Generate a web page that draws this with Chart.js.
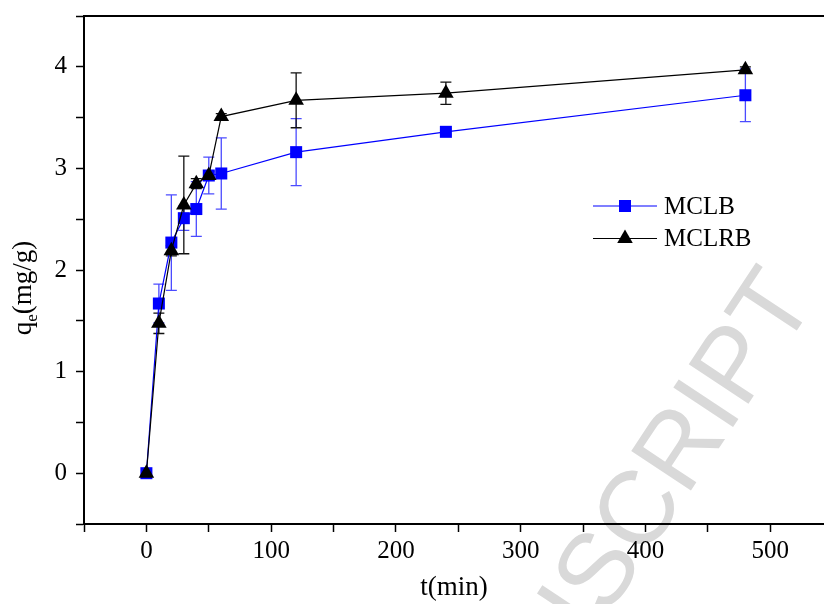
<!DOCTYPE html>
<html>
<head>
<meta charset="utf-8">
<script src="https://cdn.jsdelivr.net/npm/chart.js@4.4.1/dist/chart.umd.min.js"></script>
<style>
  html, body { margin: 0; padding: 0; background: #fff; }
  canvas { display: block; }
</style>
</head>
<body>
<canvas id="kineticsChart" width="824" height="604"></canvas>
<script>
// contact time (min)
var times = [0, 10, 20, 30, 40, 50, 60, 120, 240, 480];
// qe (mg/g) and error (+/-) for each sample
var mclb = [0, 1.67, 2.27, 2.51, 2.60, 2.93, 2.95, 3.16, 3.36, 3.72];
var mclbErr = [0, 0.19, 0.47, 0.12, 0.27, 0.18, 0.35, 0.33, 0.03, 0.26];
var mclrb = [0, 1.475, 2.19, 2.64, 2.85, 2.93, 3.51, 3.67, 3.74, 3.97];
var mclrbErr = [0, 0.10, 0.05, 0.48, 0.05, 0.04, 0.03, 0.27, 0.11, 0.03];
var seriesNames = ["MCLB", "MCLRB"];
var xTickLabels = [0, 100, 200, 300, 400, 500];
var yTickLabels = [0, 1, 2, 3, 4];

var serif = "'Liberation Serif', 'Times New Roman', serif";

function toPoints(ys) {
	return times.map(function (t, i) { return { x: t, y: ys[i] }; });
}

// no overhang padding, so the plot box sits where the figure has it
function noOverhang(s) {
	s.paddingTop = 0; s.paddingBottom = 0;
	s.paddingLeft = 0; s.paddingRight = 0;
}

var whiteBg = {
	id: 'whiteBg',
	beforeDraw: function (chart) {
		var ctx = chart.ctx;
		ctx.save();
		ctx.fillStyle = '#fff';
		ctx.fillRect(0, 0, chart.width, chart.height);
		// faint "accepted manuscript" stamp behind the plot
		ctx.translate(817, 300);
		ctx.rotate(-56.5 * Math.PI / 180);
		ctx.font = "104px 'Liberation Sans', Arial, sans-serif";
		ctx.fillStyle = '#d9d9d9';
		ctx.textAlign = 'right';
		ctx.textBaseline = 'alphabetic';
		ctx.fillText('ACCEPTED MANUSCRIPT', 0, 0);
		ctx.restore();
	}
};

var errorBars = {
	id: 'errorBars',
	beforeDatasetsDraw: function (chart) {
		var ctx = chart.ctx;
		var xs = chart.scales.x, ys = chart.scales.y;
		chart.data.datasets.forEach(function (ds) {
			ctx.save();
			ctx.strokeStyle = ds.errorColor;
			ctx.lineWidth = 1.3;
			ds.data.forEach(function (pt, i) {
				var err = ds.errors[i];
				if (!err) return;
				var px = xs.getPixelForValue(pt.x);
				var top = ys.getPixelForValue(pt.y + err);
				var bot = ys.getPixelForValue(pt.y - err);
				ctx.beginPath();
				ctx.moveTo(px, top); ctx.lineTo(px, bot);
				ctx.moveTo(px - 5.5, top); ctx.lineTo(px + 5.5, top);
				ctx.moveTo(px - 5.5, bot); ctx.lineTo(px + 5.5, bot);
				ctx.stroke();
			});
			ctx.restore();
		});
	}
};

var frameAndLabels = {
	id: 'frameAndLabels',
	afterDraw: function (chart) {
		var ctx = chart.ctx, a = chart.chartArea;
		ctx.save();
		// top frame line
		ctx.strokeStyle = '#000';
		ctx.lineWidth = 2;
		ctx.beginPath();
		ctx.moveTo(a.left - 1, a.top);
		ctx.lineTo(a.right, a.top);
		ctx.stroke();

		// y title with subscript
		ctx.fillStyle = '#000';
		ctx.translate(31, 288);
		ctx.rotate(-Math.PI / 2);
		ctx.textBaseline = 'alphabetic';
		ctx.textAlign = 'left';
		var big = "27px " + serif, small = "17px " + serif;
		ctx.font = big;
		var wq = ctx.measureText('q').width;
		var wr = ctx.measureText('(mg/g)').width;
		ctx.font = small;
		var we = ctx.measureText('e').width;
		var x0 = -(wq + we + wr) / 2;
		ctx.font = big;
		ctx.fillText('q', x0, 0);
		ctx.font = small;
		ctx.fillText('e', x0 + wq, 6);
		ctx.font = big;
		ctx.fillText('(mg/g)', x0 + wq + we, 0);
		ctx.restore();

		// legend on a white box
		ctx.save();
		ctx.fillStyle = '#fff';
		ctx.fillRect(588, 188, 220, 69);
		chart.data.datasets.forEach(function (ds, i) {
			var cy = 206 + i * 32.5;
			ctx.strokeStyle = ds.borderColor;
			ctx.lineWidth = 1.2;
			ctx.beginPath();
			ctx.moveTo(593, cy);
			ctx.lineTo(657, cy);
			ctx.stroke();
			ctx.fillStyle = ds.pointBackgroundColor;
			ctx.strokeStyle = ds.pointBorderColor;
			Chart.helpers.drawPoint(ctx, {
				pointStyle: ds.pointStyle, rotation: 0,
				radius: ds.pointRadius, borderWidth: 0
			}, 625, cy);
			ctx.fillStyle = '#000';
			ctx.font = "25px " + serif;
			ctx.textAlign = 'left';
			ctx.textBaseline = 'middle';
			ctx.fillText(ds.label, 664, cy + 1);
		});
		ctx.restore();
	}
};

var ctx = document.getElementById('kineticsChart').getContext('2d');

var chart = new Chart(ctx, {
	type: 'line',
	plugins: [whiteBg, errorBars, frameAndLabels],
	data: {
		datasets: [{
			label: seriesNames[0],
			data: toPoints(mclb),
			errors: mclbErr,
			errorColor: 'rgba(30,30,255,0.8)',
			borderColor: '#0000ff',
			borderWidth: 1.2,
			pointStyle: 'rect',
			pointRadius: 8.5,
			pointBorderWidth: 0,
			pointBackgroundColor: '#0000ff',
			pointBorderColor: '#0000ff',
			tension: 0,
			order: 1
		}, {
			label: seriesNames[1],
			data: toPoints(mclrb),
			errors: mclrbErr,
			errorColor: '#111',
			borderColor: '#000',
			borderWidth: 1.2,
			pointStyle: 'triangle',
			pointRadius: 9,
			pointBorderWidth: 0,
			pointBackgroundColor: '#000',
			pointBorderColor: '#000',
			tension: 0,
			order: 0
		}]
	},
	options: {
		responsive: false,
		animation: false,
		layout: { autoPadding: false, padding: { top: 16, left: 0, right: 0, bottom: 0 } },
		plugins: {
			legend: { display: false },
			tooltip: { enabled: false }
		},
		scales: {
			x: {
				type: 'linear',
				min: -50,
				max: 543,
				afterFit: function (s) { s.height = 80; noOverhang(s); },
				border: { display: true, color: '#000', width: 2 },
				grid: { drawOnChartArea: false, drawTicks: true, tickLength: 8, tickWidth: 1.5, tickColor: '#000' },
				ticks: {
					stepSize: 50,
					includeBounds: false,
					autoSkip: false,
					maxRotation: 0,
					padding: 4,
					color: '#000',
					font: { family: serif, size: 25 },
					callback: function (v) { return xTickLabels.indexOf(v) >= 0 ? String(v) : ''; }
				},
				title: {
					display: true,
					text: 't(min)',
					color: '#000',
					font: { family: serif, size: 27 },
					padding: { top: 0, bottom: 0 }
				}
			},
			y: {
				type: 'linear',
				min: -0.5,
				max: 4.5,
				afterFit: function (s) { s.width = 84; noOverhang(s); },
				border: { display: true, color: '#000', width: 2 },
				grid: { drawOnChartArea: false, drawTicks: true, tickLength: 8, tickWidth: 1.5, tickColor: '#000' },
				ticks: {
					stepSize: 0.5,
					autoSkip: false,
					padding: 9,
					color: '#000',
					font: { family: serif, size: 25 },
					callback: function (v) { return yTickLabels.indexOf(v) >= 0 ? String(v) : ''; }
				}
			}
		}
	}
});
</script>
</body>
</html>
